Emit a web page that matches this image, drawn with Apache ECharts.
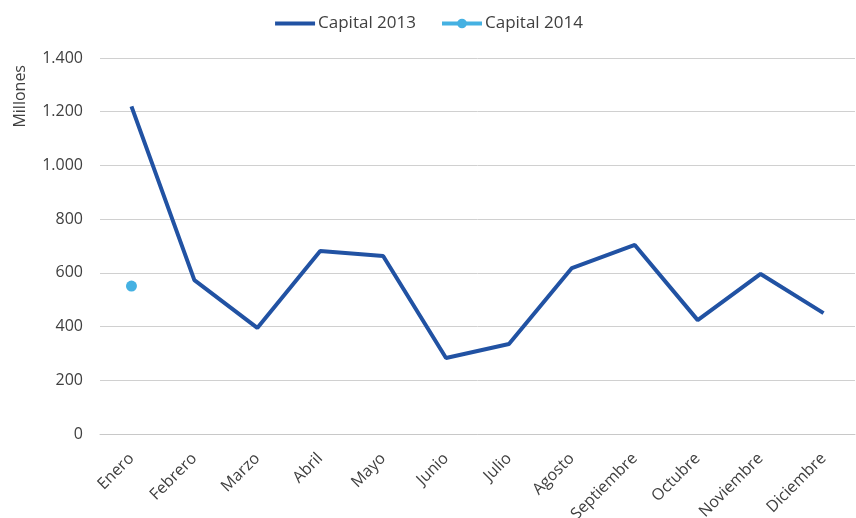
<!DOCTYPE html>
<html>
<head>
<meta charset="utf-8">
<script src="https://cdn.jsdelivr.net/npm/echarts@6/dist/echarts.min.js"></script>
<style>
  html, body { margin: 0; padding: 0; background: #fff; }
  #chart { width: 856px; height: 518px; }
</style>
</head>
<body>
<div id="chart"></div>
<script>
// categorias (meses)
const months = ['Enero', 'Febrero', 'Marzo', 'Abril', 'Mayo', 'Junio', 'Julio', 'Agosto', 'Septiembre', 'Octubre', 'Noviembre', 'Diciembre']
// millones
const capital2013 = [1220, 573, 395, 681, 663, 283, 335, 618, 704, 424, 596, 450]
const capital2014 = [551, null, null, null, null, null, null, null, null, null, null, null]
const yTicks = [0, 200, 400, 600, 800, 1000, 1200, 1400]

const fontFamily = '"Open Sans", "Noto Sans", sans-serif'
const textColor = '#404040'

let myCharts = echarts.init(document.getElementById('chart'))
myCharts.setOption({
  textStyle: { fontFamily: fontFamily },
  animation: false,
  legend: {
    top: 10,
    left: 'center',
    itemWidth: 40,
    itemHeight: 12,
    itemGap: 24,
    lineStyle: { width: 4 },
    textStyle: { color: textColor, fontSize: 17, fontFamily: fontFamily, padding: [0, 0, 0, -2] },
    data: [
      // la serie 2013 no lleva marcador en la leyenda
      { name: 'Capital 2013', itemStyle: { color: 'rgba(0,0,0,0)', borderWidth: 0 } },
      { name: 'Capital 2014' },
    ],
  },
  grid: {
    left: 100,
    right: 1,
    top: 58,
    bottom: 84,
    outerBoundsMode: 'none',
    containLabel: false,
  },
  graphic: [
    {
      type: 'text',
      left: 12,
      top: 65,
      rotation: Math.PI / 2,
      style: {
        text: 'Millones',
        fill: textColor,
        font: '16px ' + fontFamily,
      },
    },
  ],
  xAxis: {
    type: 'category',
    data: months,
    boundaryGap: true,
    axisLine: { show: true, lineStyle: { color: '#c8c8c8', width: 1 } },
    axisTick: { show: false },
    axisLabel: {
      rotate: 45,
      margin: 22,
      color: textColor,
      fontSize: 16,
      fontFamily: fontFamily,
      interval: 0,
    },
  },
  yAxis: {
    type: 'value',
    min: yTicks[0],
    max: yTicks[yTicks.length - 1],
    interval: 200,
    axisLine: { show: false },
    axisTick: { show: false },
    splitLine: { lineStyle: { color: '#d0d0d0', width: 1 } },
    axisLabel: {
      margin: 17,
      color: textColor,
      fontSize: 16,
      fontFamily: fontFamily,
      formatter: (v) => String(v).replace(/\B(?=(\d{3})+(?!\d))/g, '.'),
    },
  },
  series: [
    {
      name: 'Capital 2013',
      type: 'line',
      data: capital2013,
      symbol: 'none',
      lineStyle: { color: '#2152a3', width: 4 },
      itemStyle: { color: '#2152a3' },
    },
    {
      name: 'Capital 2014',
      type: 'line',
      data: capital2014,
      symbol: 'circle',
      symbolSize: 11,
      showSymbol: true,
      lineStyle: { color: '#45b1e2', width: 4 },
      itemStyle: { color: '#45b1e2' },
    },
  ],
})
</script>
</body>
</html>
